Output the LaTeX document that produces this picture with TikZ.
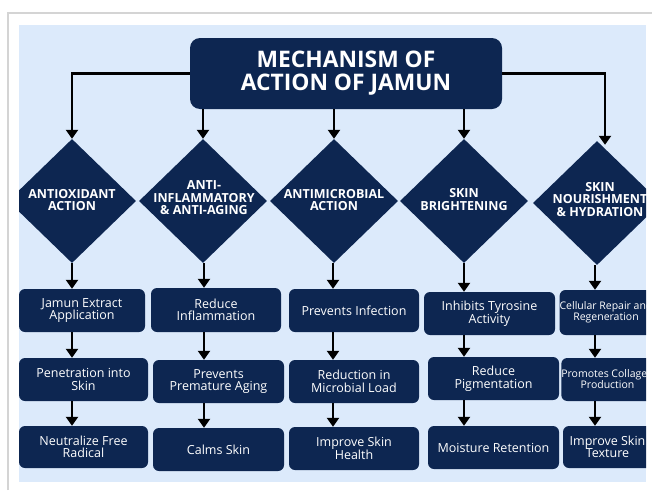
\documentclass[tikz,border=0pt]{standalone}
\usepackage{fontspec}
\setmainfont{Open Sans}
\usetikzlibrary{arrows.meta,shapes.geometric}
\definecolor{navy}{HTML}{0D2651}
\definecolor{bgblue}{HTML}{DCEAFB}
\definecolor{framegray}{HTML}{D4D4D4}
\begin{document}
\begin{tikzpicture}[x=1pt,y=-1pt,
  box/.style={fill=navy, rounded corners=6pt, text=white, align=center, inner sep=0pt,
    font=\fontsize{12.5pt}{12.5pt}\selectfont},
  smallbox/.style={box, font=\fontsize{10.5pt}{11pt}\selectfont},
  dia/.style={diamond, fill=navy, inner sep=0pt, minimum width=128pt, minimum height=124pt},
  dtext/.style={text=white, align=center, inner sep=0pt, font=\fontsize{12.5pt}{12.5pt}\selectfont\bfseries},
  arr/.style={draw=black, line width=2.6pt, -{Triangle[width=12pt,length=9pt]}}
]
\useasboundingbox (0,0) rectangle (652,490);
\fill[white] (0,0) rectangle (652,490);
\draw[framegray, line width=1.5pt] (8,490) -- (8,13) -- (652,13);
\begin{scope}
\clip (19,25) rectangle (646,482);
\fill[bgblue] (19,25) rectangle (646,482);

% title
\node[fill=navy, rounded corners=10pt, text=white, align=center, inner sep=0pt,
  minimum width=312pt, minimum height=71pt,
  font=\fontsize{22.8pt}{23pt}\selectfont\bfseries] (T) at (346,73.5) {MECHANISM OF\\ACTION OF JAMUN};

% diamonds
\node[dia] (d1) at (72,201) {};
\node[dia] (d2) at (203,201) {};
\node[dia] (d3) at (334,201) {};
\node[dia] (d4) at (464,201) {};
\node[dia] (d5) at (597,203) {};
\node[dtext] (t1) at (72,200) {ANTIOXIDANT\\ACTION};
\node[dtext] (t2) at (204,198) {ANTI-\\INFLAMMATORY\\\& ANTI-AGING};
\node[dtext] (t3) at (334,200) {ANTIMICROBIAL\\ACTION};
\node[dtext] (t4) at (464,199.5) {SKIN\\BRIGHTENING};
\node[dtext] (t5) at (600,199.5) {SKIN\\NOURISHMENT\\\& HYDRATION};

% boxes row 1
\node[box, minimum width=126pt, minimum height=43pt] (b11) at (82,310.5) {Jamun Extract\\Application};
\node[box, minimum width=130pt, minimum height=44pt] (b21) at (216,310) {Reduce\\Inflammation};
\node[box, minimum width=130pt, minimum height=43pt] (b31) at (354,310.5) {Prevents Infection};
\node[box, minimum width=131pt, minimum height=43pt] (b41) at (489.5,313.5) {Inhibits Tyrosine\\Activity};
\node[smallbox, minimum width=92pt, minimum height=45pt] (b51) at (606,312.5) {Cellular Repair and\\Regeneration};
% row 2
\node[box, minimum width=129pt, minimum height=43pt] (b12) at (83.5,379.5) {Penetration into\\Skin};
\node[box, minimum width=131pt, minimum height=43pt] (b22) at (218.5,381.5) {Prevents\\Premature Aging};
\node[box, minimum width=130pt, minimum height=43pt] (b32) at (354,381.5) {Reduction in\\Microbial Load};
\node[box, minimum width=131pt, minimum height=43pt] (b42) at (493.5,378.5) {Reduce\\Pigmentation};
\node[smallbox, minimum width=89pt, minimum height=43pt] (b52) at (607.5,379.5) {Promotes Collagen\\Production};
% row 3
\node[box, minimum width=129pt, minimum height=42pt] (b13) at (83.5,447) {Neutralize Free\\Radical};
\node[box, minimum width=131pt, minimum height=43pt] (b23) at (218.5,449.5) {Calms Skin};
\node[box, minimum width=130pt, minimum height=43pt] (b33) at (354,448.5) {Improve Skin\\Health};
\node[box, minimum width=131pt, minimum height=43pt] (b43) at (493.5,447.5) {Moisture Retention};
\node[box, minimum width=89pt, minimum height=42pt] (b53) at (607.5,447) {Improve Skin\\Texture};

% title connectors
\coordinate (r5) at (605,0);
\draw[arr] (T.west) -| (d1.north);
\draw[arr] (T.east) -| ([yshift=-4pt]r5 |- d5.north);
\draw[arr] (T.south -| d2.north) -- (d2.north);
\draw[arr] (T.south -| d3.north) -- (d3.north);
\draw[arr] (T.south -| d4.north) -- (d4.north);

% column connectors
\coordinate (c2) at (204,0);
\coordinate (c3) at (333,0);
\coordinate (c5) at (595,0);
\draw[arr] (d1.south) -- (d1.south |- b11.north);
\draw[arr] (b11.south -| d1.south) -- (d1.south |- b12.north);
\draw[arr] (b12.south -| d1.south) -- (d1.south |- b13.north);

\draw[arr] (c2 |- d2.south) -- (c2 |- b21.north);
\draw[arr] (c2 |- b21.south) -- (c2 |- b22.north);
\draw[arr] (c2 |- b22.south) -- (c2 |- b23.north);

\draw[arr] (c3 |- d3.south) -- (c3 |- b31.north);
\draw[arr] (c3 |- b31.south) -- (c3 |- b32.north);
\draw[arr] (c3 |- b32.south) -- (c3 |- b33.north);

\draw[arr] (d4.south) -- (d4.south |- b41.north);
\draw[arr] (b41.south -| d4.south) -- (d4.south |- b42.north);
\draw[arr] (b42.south -| d4.south) -- (d4.south |- b43.north);

\draw[arr] (c5 |- d5.south) -- (c5 |- b51.north);
\draw[arr] (c5 |- b51.south) -- (c5 |- b52.north);
\draw[arr] (c5 |- b52.south) -- (c5 |- b53.north);
\end{scope}
\end{tikzpicture}
\end{document}
